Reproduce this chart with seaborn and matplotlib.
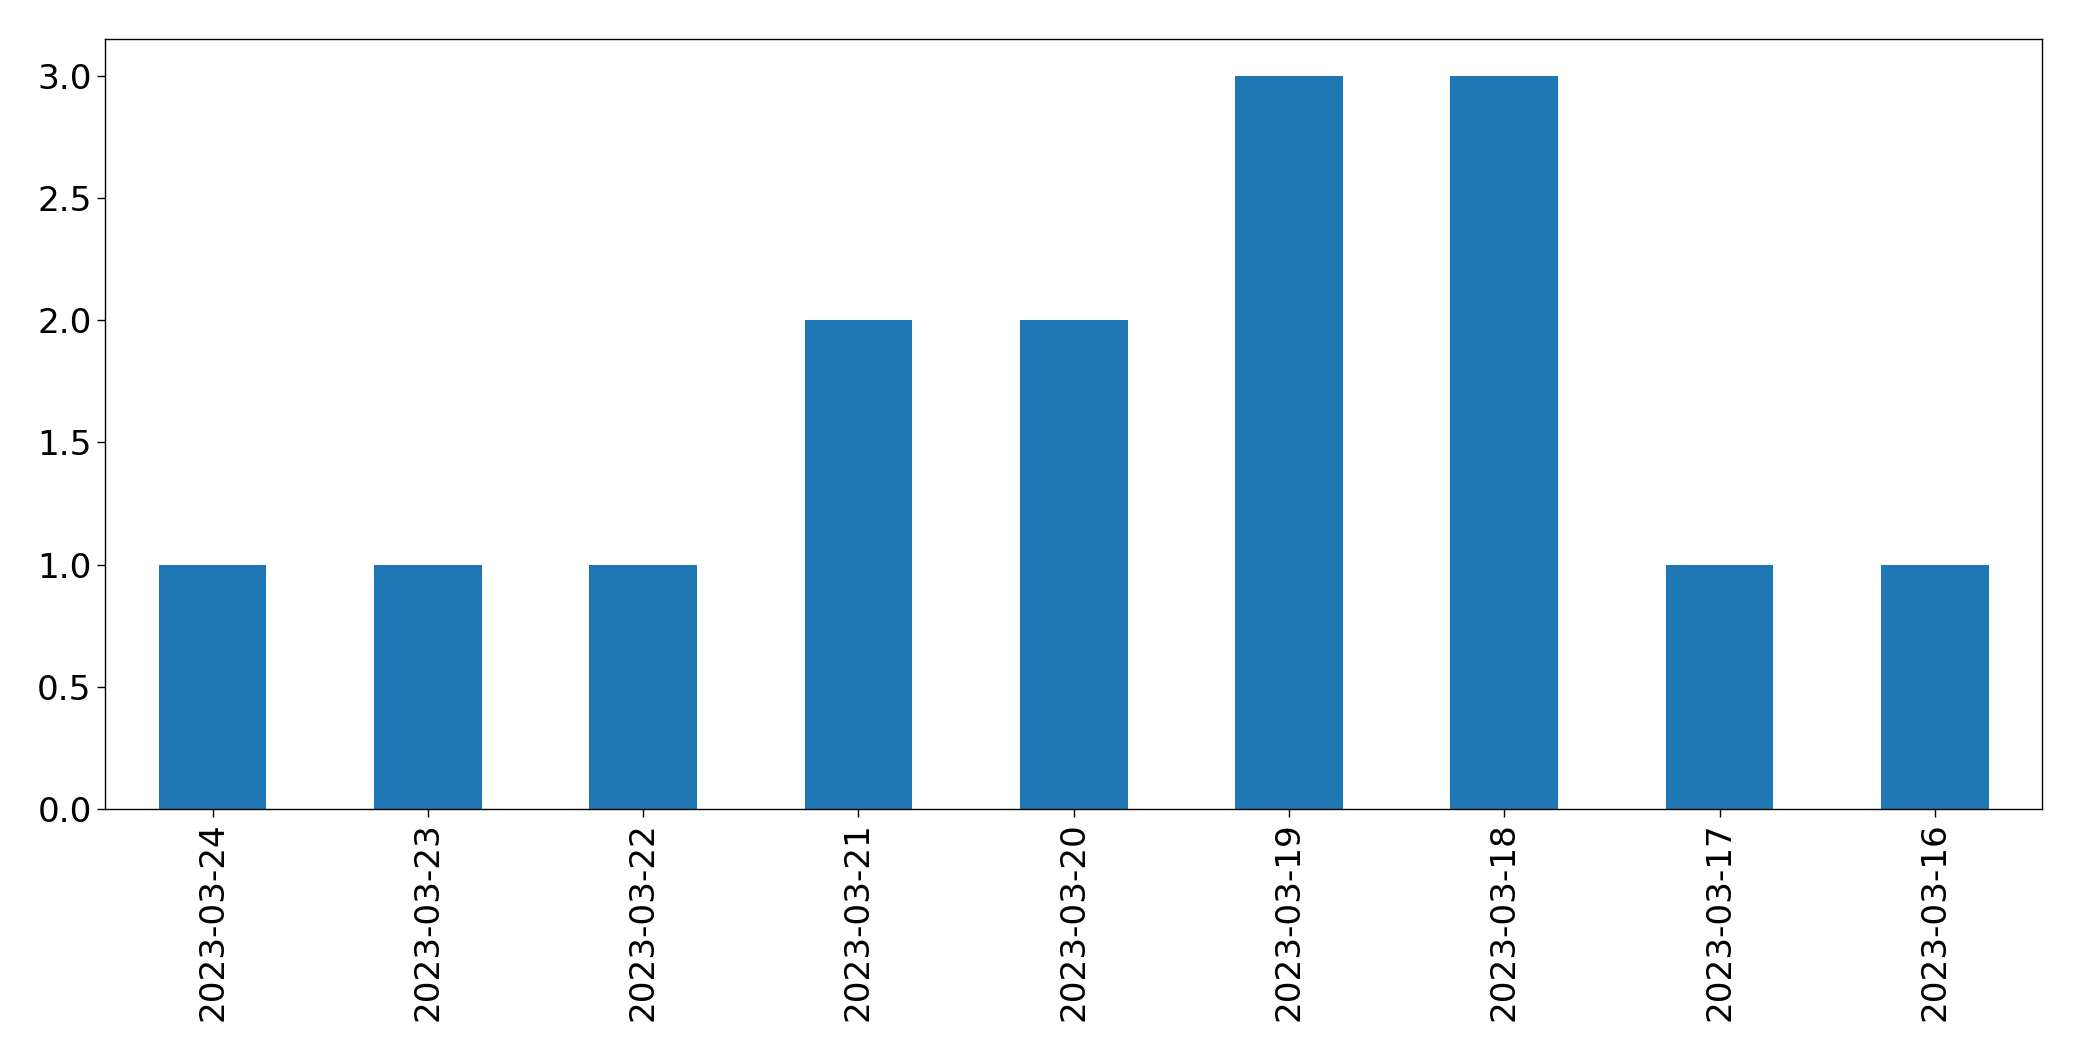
import pandas as pd
import seaborn as sns
import matplotlib
matplotlib.use("Agg")
import matplotlib.pyplot as plt

# Counts per day (newest first, as in the source chart)
dates = ["2023-03-24", "2023-03-23", "2023-03-22", "2023-03-21", "2023-03-20",
         "2023-03-19", "2023-03-18", "2023-03-17", "2023-03-16"]
counts = [1, 1, 1, 2, 2, 3, 3, 1, 1]

df = pd.DataFrame({"date": dates, "count": counts})

plt.rcParams["font.family"] = ["DejaVu Sans"]
plt.rcParams["font.size"] = 24.7

fig, ax = plt.subplots(figsize=(20.82, 10.61), dpi=100)
fig.subplots_adjust(left=0.0504, right=0.981, top=0.963, bottom=0.2375)

sns.barplot(data=df, x="date", y="count", order=dates, color="#1f77b4",
            saturation=1, width=0.5, ax=ax)

ax.set_xlim(-0.5, len(dates) - 0.5)
ax.set_ylim(0, 3.15)
ax.set_xlabel("")
ax.set_ylabel("")
ax.tick_params(axis="x", labelrotation=90)
ax.tick_params(length=6, width=1, labelsize=24.7)
for s in ax.spines.values():
    s.set_linewidth(1)

fig.savefig("out.png", dpi=100)
